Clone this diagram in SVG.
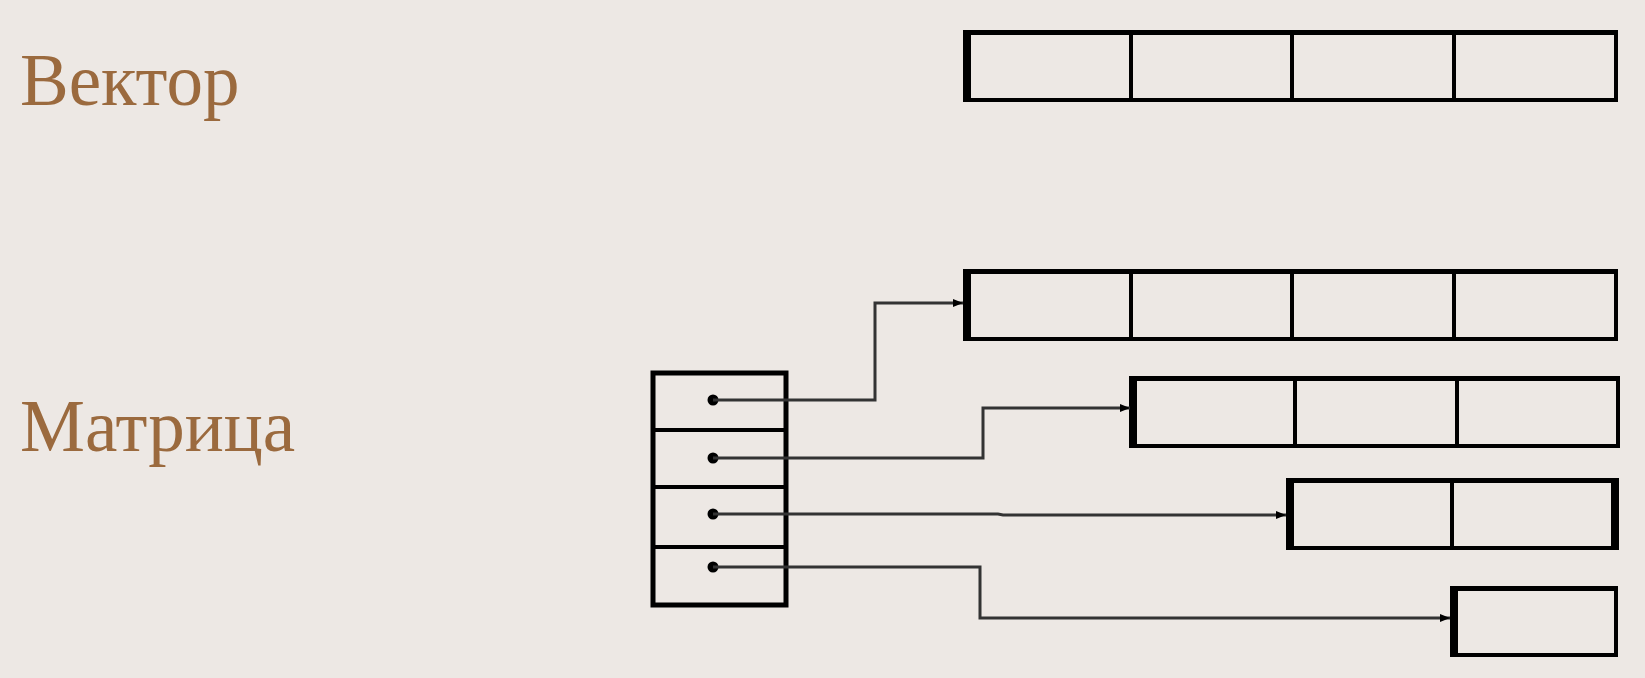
<svg xmlns="http://www.w3.org/2000/svg" width="1645" height="678" viewBox="0 0 1645 678">
<style>
.lbl{font-family:"Liberation Serif","Times New Roman",serif;font-size:73px;fill:#9b6a3e}
.box{stroke:#000;stroke-width:4;fill:none}
.e{stroke:#000;fill:none;stroke-linecap:butt}
.t{stroke-width:5}
.l{stroke-width:8}
.d{stroke-width:4}
.c{stroke:#333;stroke-width:3;fill:none}
.dot{fill:#000}
</style>
<defs>
<marker id="ah" markerWidth="10" markerHeight="8" refX="10" refY="4" orient="auto" markerUnits="userSpaceOnUse">
<path d="M0,0 L10,4 L0,8 Z" fill="#000"/>
</marker>
</defs>
<rect width="1645" height="678" fill="#ede8e4"/>
<text class="lbl" x="20" y="105">Вектор</text>
<text class="lbl" x="20" y="451">Матрица</text>

<g id="vector">
<rect class="box" x="965" y="32" width="651" height="68"/>
<line class="e t" x1="963" y1="32.5" x2="1618" y2="32.5"/>
<line class="e l" x1="967" y1="30" x2="967" y2="102"/>
<line class="e d" x1="1131" y1="32" x2="1131" y2="100"/>
<line class="e d" x1="1292" y1="32" x2="1292" y2="100"/>
<line class="e d" x1="1454" y1="32" x2="1454" y2="100"/>
</g>

<g id="row1">
<rect class="box" x="965" y="271" width="651" height="68"/>
<line class="e t" x1="963" y1="271.5" x2="1618" y2="271.5"/>
<line class="e l" x1="967" y1="269" x2="967" y2="341"/>
<line class="e d" x1="1131" y1="271" x2="1131" y2="339"/>
<line class="e d" x1="1292" y1="271" x2="1292" y2="339"/>
<line class="e d" x1="1454" y1="271" x2="1454" y2="339"/>
</g>

<g id="row2">
<rect class="box" x="1131" y="378" width="487" height="68"/>
<line class="e t" x1="1129" y1="378.5" x2="1620" y2="378.5"/>
<line class="e l" x1="1133" y1="376" x2="1133" y2="448"/>
<line class="e d" x1="1295" y1="378" x2="1295" y2="446"/>
<line class="e d" x1="1457" y1="378" x2="1457" y2="446"/>
</g>

<g id="row3">
<rect class="box" x="1288" y="480" width="328" height="68"/>
<line class="e t" x1="1286" y1="480.5" x2="1618" y2="480.5"/>
<line class="e l" x1="1290" y1="478" x2="1290" y2="550"/>
<line class="e l" x1="1615" y1="478" x2="1615" y2="550"/>
<line class="e d" x1="1452" y1="480" x2="1452" y2="548"/>
</g>

<g id="row4">
<rect class="box" x="1452" y="588" width="164" height="67"/>
<line class="e t" x1="1450" y1="588.5" x2="1618" y2="588.5"/>
<line class="e l" x1="1454" y1="586" x2="1454" y2="657"/>
</g>

<g id="pointers">
<rect class="box" x="653" y="373" width="133" height="232" style="stroke-width:5"/>
<line class="e d" x1="653" y1="430" x2="786" y2="430"/>
<line class="e d" x1="653" y1="487" x2="786" y2="487"/>
<line class="e d" x1="653" y1="547" x2="786" y2="547"/>
<circle class="dot" cx="713" cy="400" r="5.5"/>
<circle class="dot" cx="713" cy="458" r="5.5"/>
<circle class="dot" cx="713" cy="514" r="5.5"/>
<circle class="dot" cx="713" cy="567" r="5.5"/>
</g>

<g id="connectors">
<path class="c" d="M713,400 H875 V303 H963" marker-end="url(#ah)"/>
<path class="c" d="M713,458 H983 V408 H1130" marker-end="url(#ah)"/>
<path class="c" d="M713,514 H998 L1003,515 H1286" marker-end="url(#ah)"/>
<path class="c" d="M713,567 H980 V618 H1450" marker-end="url(#ah)"/>
</g>
</svg>
